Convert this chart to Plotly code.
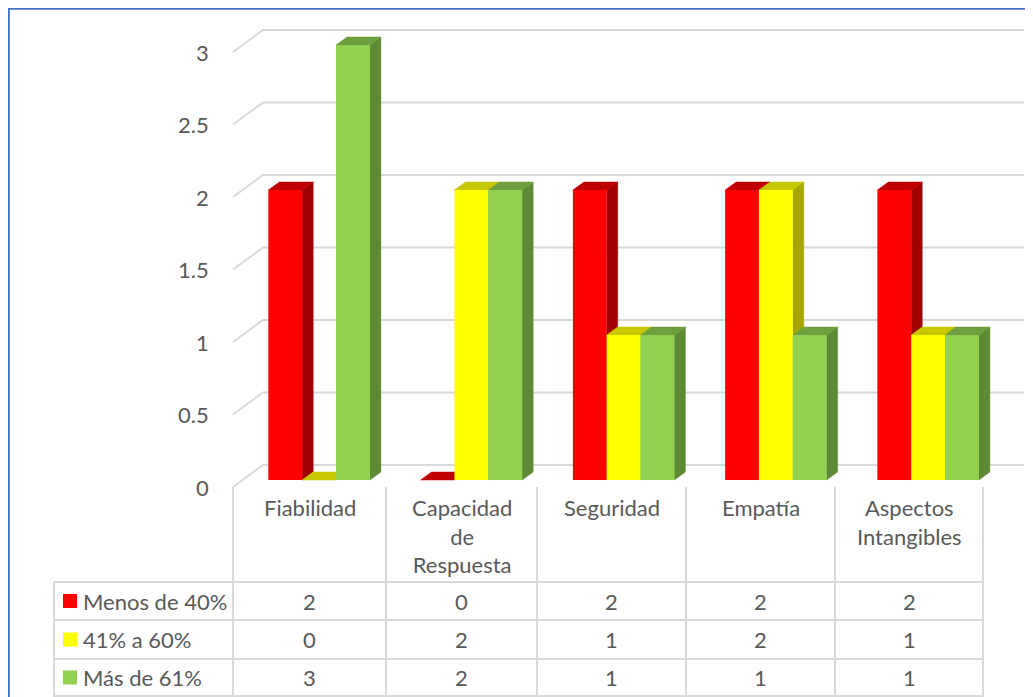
import plotly.graph_objects as go

# ---------------- data ----------------
categories = ["Fiabilidad", "Capacidad de Respuesta", "Seguridad", "Empatía", "Aspectos Intangibles"]
category_labels = ["Fiabilidad", "Capacidad<br>de<br>Respuesta", "Seguridad", "Empatía", "Aspectos<br>Intangibles"]
series_names = ["Menos de 40%", "41% a 60%", "Más de 61%"]
menos_40 = [2, 0, 2, 2, 2]
de_41_a_60 = [0, 2, 1, 2, 1]
mas_61 = [3, 2, 1, 1, 1]
y_tick_values = [0, 0.5, 1, 1.5, 2, 2.5, 3]
y_tick_labels = ["0", "0.5", "1", "1.5", "2", "2.5", "3"]

series_values = [menos_40, de_41_a_60, mas_61]

# ---------------- styles / layout constants ----------------
front_colors = ["#FF0000", "#FFFF00", "#92D050"]
top_colors = ["#C00000", "#C8C800", "#6E9E3E"]
side_colors = ["#A00000", "#A6A600", "#5D8A33"]
GRID = "#D9D9D9"
TEXT = "#595959"
FONT = "Lato"
FS = 22

W, H = 1033, 697
OFF = 8                          # page body margin: page pixel p -> figure pixel p - OFF
PX0, CAT_W = 243.0, 152.25       # bar plane (page px): category 0 left edge, category width
PY0, UNIT = 480.0, 145.0         # bar plane (page px): value 0, pixels per unit


def xd(px):
    return (px - PX0) / CAT_W


def yd(py):
    return (PY0 - py) / UNIT


def xp(px):
    return (px - OFF) / W


def yp(py):
    return 1 - (py - OFF) / H


BARGAP = 1 / 3
NS = len(series_values)
BW = (1 - BARGAP) / NS
DX, DY = 11 / CAT_W, 8 / UNIT          # bar depth (projected)
FRONT_L, BACK_L, BACK_R = 233, 263, 1024
FRONT_OFF, BACK_OFF = -7 / UNIT, 15 / UNIT

fig = go.Figure()

# 3D side and top faces (base axes, drawn beneath the bar fronts)
for j, vals in enumerate(series_values):
    sx, sy, tx, ty = [], [], [], []
    for i, v in enumerate(vals):
        xl = i + 0.5 - (1 - BARGAP) / 2 + j * BW
        xr = xl + BW
        if v > 0:
            sx += [xr, xr, xr + DX, xr + DX, xr, None]
            sy += [0, v, v + DY, DY, 0, None]
        tx += [xl, xr, xr + DX, xl + DX, xl, None]
        ty += [v, v, v + DY, v + DY, v, None]
    fig.add_trace(go.Scatter(x=sx, y=sy, mode="lines", fill="toself",
                             fillcolor=side_colors[j],
                             line=dict(width=0.5, color=side_colors[j]),
                             hoverinfo="skip", showlegend=False))
    fig.add_trace(go.Scatter(x=tx, y=ty, mode="lines", fill="toself",
                             fillcolor=top_colors[j],
                             line=dict(width=0.5, color=top_colors[j]),
                             hoverinfo="skip", showlegend=False))

# bar fronts (overlay axes so they sit above the faces)
for j, vals in enumerate(series_values):
    fig.add_trace(go.Bar(x=[i + 0.5 for i in range(len(categories))], y=vals,
                         name=series_names[j],
                         marker=dict(color=front_colors[j], line=dict(width=0)),
                         xaxis="x2", yaxis="y2", showlegend=False,
                         hovertext=categories, hoverinfo="text+y"))

shapes = []
# gridlines with left wall slant
for v in y_tick_values:
    shapes.append(dict(type="path", xref="x", yref="y", layer="below",
                       path=f"M {xd(FRONT_L)},{v + FRONT_OFF} L {xd(BACK_L)},{v + BACK_OFF} L {xd(BACK_R)},{v + BACK_OFF}",
                       line=dict(color=GRID, width=2)))

# data table
col_edges = [233, 386, 537, 686, 835, 983]
row_edges = [582, 620, 659, 696]
table_left = 54
header_top = 487
for c in col_edges:
    shapes.append(dict(type="line", xref="paper", yref="paper",
                       x0=xp(c), x1=xp(c), y0=yp(header_top), y1=yp(row_edges[-1] + 1),
                       line=dict(color=GRID, width=2)))
shapes.append(dict(type="line", xref="paper", yref="paper",
                   x0=xp(table_left), x1=xp(table_left), y0=yp(row_edges[0]), y1=yp(row_edges[-1] + 1),
                   line=dict(color=GRID, width=2)))
for r in row_edges:
    shapes.append(dict(type="line", xref="paper", yref="paper",
                       x0=xp(table_left), x1=xp(col_edges[-1]), y0=yp(r), y1=yp(r),
                       line=dict(color=GRID, width=2)))

annotations = []
# y tick labels (front plane of the walls)
for v, lab in zip(y_tick_values, y_tick_labels):
    annotations.append(dict(xref="paper", yref="y", x=xp(211), y=v + FRONT_OFF,
                            text=lab, showarrow=False, xanchor="right", yanchor="middle",
                            font=dict(family=FONT, size=FS, color=TEXT)))
# header labels
for i, lab in enumerate(category_labels):
    cx = (col_edges[i] + col_edges[i + 1]) / 2
    annotations.append(dict(xref="paper", yref="paper", x=xp(cx), y=yp(492),
                            text=lab, showarrow=False, xanchor="center", yanchor="top",
                            align="center",
                            font=dict(family=FONT, size=FS, color=TEXT)))
# rows
for j, vals in enumerate(series_values):
    cy = (row_edges[j] + row_edges[j + 1]) / 2
    shapes.append(dict(type="rect", xref="paper", yref="paper",
                       x0=xp(63), x1=xp(77), y0=yp(cy - 7), y1=yp(cy + 7),
                       fillcolor=front_colors[j], line=dict(width=0)))
    annotations.append(dict(xref="paper", yref="paper", x=xp(81), y=yp(cy),
                            text=series_names[j], showarrow=False, xanchor="left",
                            yanchor="middle", font=dict(family=FONT, size=FS, color=TEXT)))
    for i, v in enumerate(vals):
        cx = (col_edges[i] + col_edges[i + 1]) / 2
        annotations.append(dict(xref="paper", yref="paper", x=xp(cx), y=yp(cy),
                                text=str(v), showarrow=False, xanchor="center",
                                yanchor="middle", font=dict(family=FONT, size=FS, color=TEXT)))

# outer blue frame (top and left visible)
shapes.append(dict(type="line", xref="paper", yref="paper", x0=xp(8), x1=1,
                   y0=yp(8.6), y1=yp(8.6), line=dict(color="#4472C4", width=2.5)))
shapes.append(dict(type="line", xref="paper", yref="paper", x0=xp(8.6), x1=xp(8.6),
                   y0=yp(7.5), y1=0, line=dict(color="#4472C4", width=2.5)))

# axis ranges expressed in page pixels shifted by the body margin
xr_ = [xd(OFF), xd(OFF + W)]
yr_ = [yd(OFF + H), yd(OFF)]
fig.update_layout(
    width=W, height=H,
    margin=dict(l=0, r=0, t=0, b=0),
    paper_bgcolor="white", plot_bgcolor="white",
    barmode="group", bargap=BARGAP, bargroupgap=0,
    xaxis=dict(range=xr_, visible=False, fixedrange=True),
    yaxis=dict(range=yr_, visible=False, fixedrange=True),
    xaxis2=dict(range=xr_, visible=False, overlaying="x", fixedrange=True),
    yaxis2=dict(range=yr_, visible=False, overlaying="y", fixedrange=True),
    shapes=shapes, annotations=annotations,
    showlegend=False,
)

fig.write_html("out.html")
